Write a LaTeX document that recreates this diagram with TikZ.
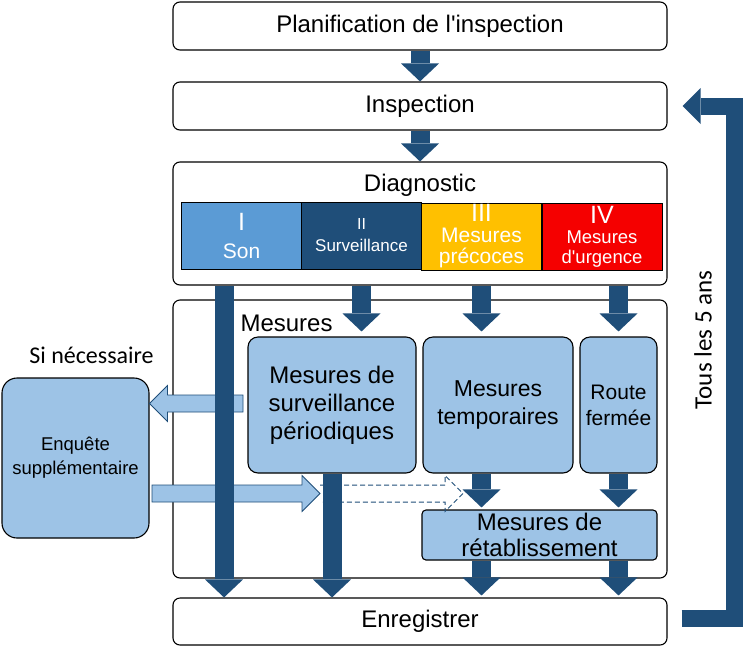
\documentclass[tikz,border=0pt]{standalone}
\usepackage{fontspec}
\setmainfont{Liberation Sans}
\newfontfamily\calibri{Carlito}
\usetikzlibrary{positioning}
\usetikzlibrary{calc}
\usetikzlibrary{arrows.meta}
\definecolor{dblue}{RGB}{31,78,121}
\definecolor{lblue}{RGB}{157,195,230}
\definecolor{sonblue}{RGB}{91,155,213}
\definecolor{gold}{RGB}{255,192,0}
\definecolor{urgred}{RGB}{245,0,0}

\begin{document}
\begin{tikzpicture}[x=1pt, y=-1pt,
    box/.style={draw, line width=1.1pt, rounded corners=7pt, fill=white, minimum width=494pt, inner sep=0pt, font=\fontsize{24}{28}\selectfont},
    lbox/.style={draw, line width=1.1pt, rounded corners=10pt, fill=lblue, inner sep=0pt, align=center},
    cell/.style={draw, line width=0.9pt, minimum width=120pt, minimum height=67pt, inner sep=0pt, text=white, align=center},
    darrow/.style={draw=dblue, line width=19pt, -{Triangle[length=18pt, width=38pt, line width=0pt]}},
    lbarrow/.style={draw=dblue, line width=0.8pt, fill=lblue},
    dasharrow/.style={draw=dblue, line width=1pt, dash pattern=on 5pt off 3pt}]
    \useasboundingbox (0,0) rectangle (743,651);

    % Main steps
    \node[box, minimum height=48pt] (plan) at (420,26) {Planification de l\textquotesingle inspection};
    \node[box, minimum height=48pt] (insp) at (420,106) {Inspection};
    \node[box, minimum height=123pt] (diag) at (420,223.5) {};
    \node[font=\fontsize{24}{28}\selectfont] (diaglab) at (420,185) {Diagnostic};
    \node[box, minimum height=278pt] (mes) at (420,439) {};
    \node[anchor=west, font=\fontsize{24}{28}\selectfont] (meslab) at (237,323) {Mesures};
    \node[box, minimum height=47pt] (enr) at (420,621.5) {Enregistrer};

    % Diagnostic classes
    \node[cell, fill=sonblue, font=\fontsize{21}{28}\selectfont] (c1) at (241.5,235.5)
        {{\fontsize{25}{25}\selectfont I}\\Son};
    \node[cell, fill=dblue, font=\fontsize{17}{22}\selectfont] (c2) at (361.5,235.5)
        {{\fontsize{16}{16}\selectfont II}\\Surveillance};
    \node[cell, fill=gold, font=\fontsize{21}{21}\selectfont] (c3) at (481.5,236.5)
        {{\fontsize{25}{25}\selectfont III}\\Mesures\\précoces};
    \node[cell, fill=urgred, font=\fontsize{18.5}{20}\selectfont] (c4) at (602,236.5)
        {{\fontsize{25}{25}\selectfont IV}\\Mesures\\d\textquotesingle urgence};

    % Measures
    \node[lbox, minimum width=168pt, minimum height=136pt, font=\fontsize{24}{28}\selectfont] (surv) at (332,405)
        {Mesures de\\surveillance\\périodiques};
    \node[lbox, minimum width=150pt, minimum height=136pt, font=\fontsize{23}{28}\selectfont] (temp) at (498,405)
        {Mesures\\temporaires};
    \node[lbox, minimum width=77pt, minimum height=136pt, font=\fontsize{21}{26}\selectfont] (route) at (618.5,405)
        {Route\\fermée};
    \node[lbox, rounded corners=4pt, minimum width=235pt, minimum height=50pt, font=\fontsize{24}{26}\selectfont] (reta) at (539.5,535)
        {Mesures de\\rétablissement};

    % Additional survey
    \node[lbox, rounded corners=15pt, minimum width=147pt, minimum height=160pt, font=\fontsize{18.5}{24}\selectfont] (enq) at (75.5,458)
        {Enquête\\supplémentaire};
    \node[font=\calibri\fontsize{24}{28}\selectfont] (sinec) at (91.5,355) {Si nécessaire};

    % Light arrows to and from the survey
    \coordinate (l0) at (243,403.5);
    \coordinate (r0) at (152,493.5);
    \coordinate (r1) at (320,493.5);
    \coordinate (d1) at (463,493.5);
    \draw[lbarrow] ($(l0)+(0,-8.5)$) -- ($(enq.east |- l0)+(18,-8.5)$) -- ($(enq.east |- l0)+(18,-18)$)
        -- (enq.east |- l0) -- ($(enq.east |- l0)+(18,18)$) -- ($(enq.east |- l0)+(18,8.5)$) -- ($(l0)+(0,8.5)$) -- cycle;
    \draw[lbarrow] ($(r0)+(0,-8.5)$) -- ($(r1)+(-18,-8.5)$) -- ($(r1)+(-18,-18)$) -- (r1)
        -- ($(r1)+(-18,18)$) -- ($(r1)+(-18,8.5)$) -- ($(r0)+(0,8.5)$) -- cycle;
    \draw[dasharrow] ($(r1)+(0,-8.5)$) -- ($(d1)+(-18,-8.5)$) -- ($(d1)+(-18,-18)$) -- (d1)
        -- ($(d1)+(-18,18)$) -- ($(d1)+(-18,8.5)$) -- ($(r1)+(0,8.5)$);

    % Flow arrows
    \draw[darrow] (plan.south) -- (insp.north);
    \draw[darrow] (insp.south) -- (diag.north);
    \draw[darrow] ([xshift=-196pt]enr.north |- diag.south) -- ([xshift=-196pt]enr.north);
    \draw[darrow] (c2.south |- diag.south) -- ([yshift=5pt]c2.south |- surv.north);
    \draw[darrow] (c3.south |- diag.south) -- ([yshift=5pt]c3.south |- temp.north);
    \draw[darrow] (route.north |- diag.south) -- ([yshift=5pt]route.north);
    \draw[darrow] (surv.south) -- (surv.south |- enr.north);
    \draw[darrow] (c3.south |- temp.south) -- ([yshift=2pt]c3.south |- reta.north);
    \draw[darrow] (route.south) -- ([yshift=2pt]route.south |- reta.north);
    \draw[darrow] (c3.south |- reta.south) -- ([yshift=2pt]c3.south |- enr.north);
    \draw[darrow] (route.south |- reta.south) -- ([yshift=2pt]route.south |- enr.north);

    % Cycle
    \draw[dblue, line width=17pt, line join=miter, -{Triangle[length=18pt, width=36pt, line width=0pt]}]
        ([xshift=14pt, yshift=3pt]enr.east) -| ([xshift=67pt]insp.east) -- ([xshift=15pt]insp.east);
    \node[rotate=90, font=\calibri\fontsize{25}{28}\selectfont] (cycle) at (703,340) {Tous les 5 ans};
\end{tikzpicture}
\end{document}
